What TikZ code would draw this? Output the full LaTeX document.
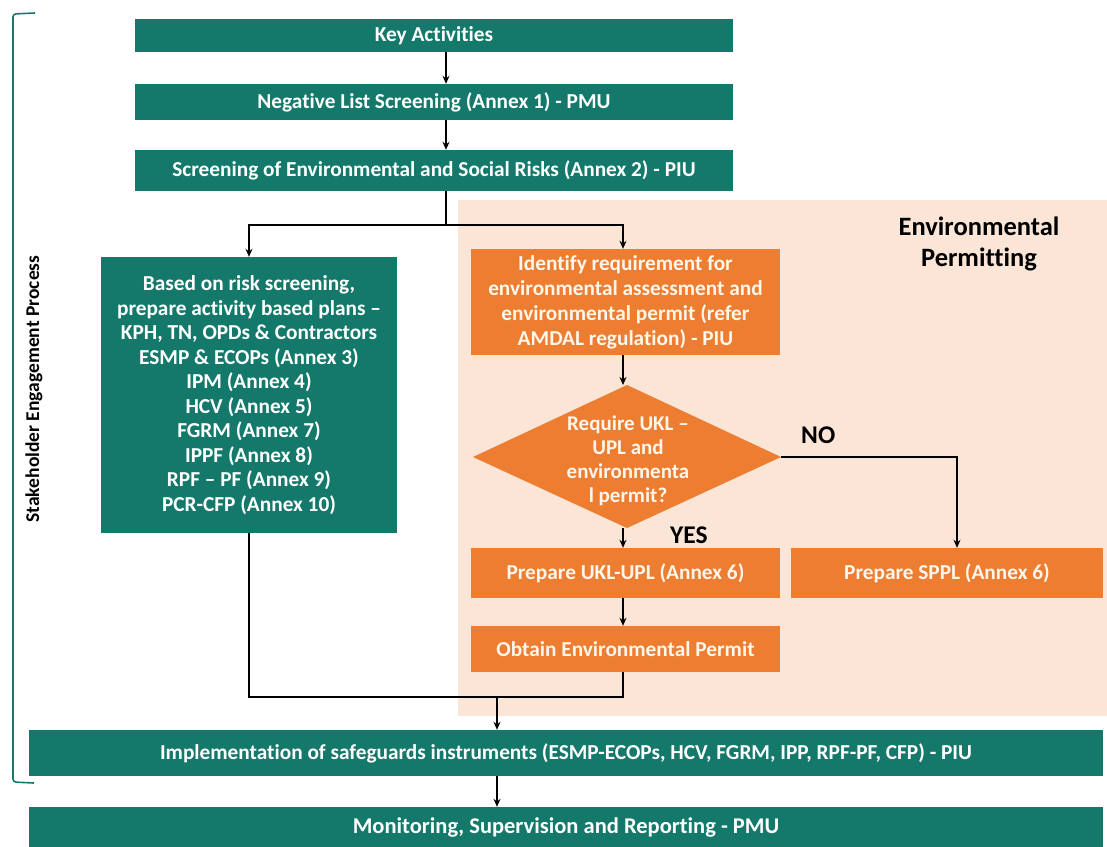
\documentclass[tikz,border=0pt]{standalone}
\usepackage{fontspec}
\setmainfont{Carlito}[Ligatures={TeX,NoCommon}]
\usetikzlibrary{arrows.meta}
\definecolor{esgreen}{RGB}{20,121,106}
\definecolor{esorange}{RGB}{237,125,49}
\definecolor{espeach}{RGB}{251,229,214}
\definecolor{estext}{RGB}{255,246,236}
\tikzset{
  gbox/.style={fill=esgreen, text=white, inner sep=0pt, align=center,
    font=\bfseries\fontsize{21.3}{25}\selectfont},
  obox/.style={fill=esorange, text=estext, inner sep=0pt, align=center,
    font=\bfseries\fontsize{21.3}{25}\selectfont},
  lbl/.style={text=black, inner sep=0pt, align=center,
    font=\bfseries\fontsize{25.5}{30}\selectfont},
  conn/.style={line width=1.4pt, black},
  arr/.style={conn, -{Stealth[length=8pt,width=7pt]}}
}
\begin{document}
\begin{tikzpicture}[x=1pt,y=-1pt]
\useasboundingbox (0,0) rectangle (1107,846);

% shaded area of the permitting branch
\fill[espeach] (458,200) rectangle (1107,716);
\node[lbl, font=\bfseries\fontsize{26.5}{31}\selectfont] (envperm) at (979,244) {Environmental\\Permitting};

% main sequence
\node[gbox, minimum width=598pt, minimum height=33pt] (key) at (434,35.5) {Key Activities};
\node[gbox, minimum width=598pt, minimum height=36pt] (neg) at (434,102) {Negative List Screening (Annex 1) - PMU};
\node[gbox, minimum width=598pt, minimum height=41pt] (scr) at (434,170.5) {Screening of Environmental and Social Risks (Annex 2) - PIU};

% plans branch
\node[gbox, minimum width=296pt, minimum height=276pt, font=\bfseries\fontsize{21.3}{24.5}\selectfont] (plans) at (249,395)
  {Based on risk screening,\\prepare activity based plans --\\KPH, TN, OPDs \& Contractors\\ESMP \& ECOPs (Annex 3)\\IPM (Annex 4)\\HCV (Annex 5)\\FGRM (Annex 7)\\IPPF (Annex 8)\\RPF -- PF (Annex 9)\\PCR-CFP (Annex 10)};

% permitting branch
\node[obox, minimum width=309pt, minimum height=106pt] (ident) at (625.5,302)
  {Identify requirement for\\environmental assessment and\\environmental permit (refer\\AMDAL regulation) - PIU};
\path[fill=esorange] (627,385) coordinate (dtop) -- (781,457) coordinate (dright)
  -- (627,528) coordinate (dbot) -- (473,457) coordinate (dleft) -- cycle;
\node[text=estext, inner sep=0pt, align=center, font=\bfseries\fontsize{21}{24}\selectfont] (dtext) at (628,461)
  {Require UKL --\\UPL and\\environmenta\\l permit?};
\node[obox, minimum width=309pt, minimum height=50pt] (ukl) at (625.5,573) {Prepare UKL-UPL (Annex 6)};
\node[obox, minimum width=312pt, minimum height=50pt] (sppl) at (947,573) {Prepare SPPL (Annex 6)};
\node[obox, minimum width=309pt, minimum height=46pt] (obt) at (625.5,649) {Obtain Environmental Permit};
\node[lbl, anchor=west] (no) at (801,435) {NO};
\node[lbl, anchor=west] (yes) at (670,535) {YES};

% closing steps
\node[gbox, minimum width=1074pt, minimum height=46pt] (impl) at (566,753)
  {Implementation of safeguards instruments (ESMP-ECOPs, HCV, FGRM, IPP, RPF-PF, CFP) - PIU};
\node[gbox, minimum width=1074pt, minimum height=40pt, font=\bfseries\fontsize{22.5}{25}\selectfont] (mon) at (566,827) {Monitoring, Supervision and Reporting - PMU};

% stakeholder engagement bracket
\draw[esgreen, line width=1.6pt, rounded corners=3pt] (35,13) -- (13,14) -- (13,782) -- (34,783);
\node[rotate=90, text=black, inner sep=0pt, font=\bfseries\fontsize{19.5}{22}\selectfont] (stake) at (34,389) {Stakeholder Engagement Process};

% connectors
\coordinate (split) at (446,225);
\coordinate (merge) at (497,697);
\draw[arr] ([xshift=12pt]key.south) -- ([xshift=12pt]neg.north);
\draw[arr] ([xshift=12pt]neg.south) -- ([xshift=12pt]scr.north);
\draw[conn] ([xshift=12pt]scr.south) -- (split);
\draw[arr] (split) -| (plans.north);
\draw[arr] (split) -| ([xshift=-2.5pt]ident.north);
\draw[arr] ([xshift=-2.5pt]ident.south) -- ([xshift=-4pt]dtop);
\draw[arr] ([xshift=-4pt]dbot) -- ([xshift=-2.5pt]ukl.north);
\draw[arr] (dright) -| ([xshift=10pt]sppl.north);
\draw[arr] ([xshift=-2.5pt]ukl.south) -- ([xshift=-2.5pt]obt.north);
\draw[conn] (plans.south) |- ([xshift=-2.5pt]obt.south |- merge) -- ([xshift=-2.5pt]obt.south);
\draw[arr] (merge) -- (merge |- impl.north);
\draw[arr] ([xshift=-69pt]impl.south) -- ([xshift=-69pt]mon.north);
\end{tikzpicture}
\end{document}
